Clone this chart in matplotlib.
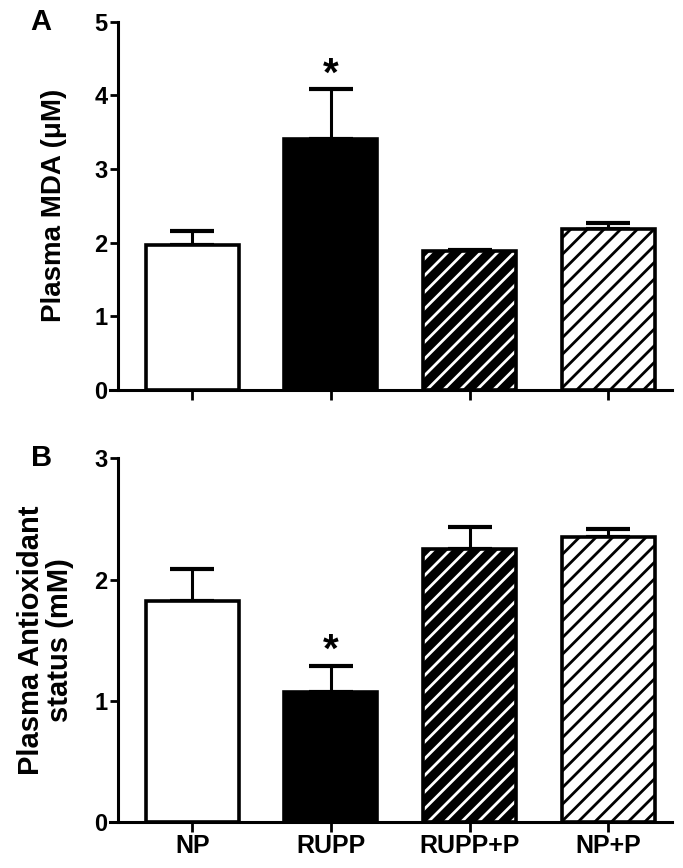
import matplotlib
matplotlib.use('Agg')
import matplotlib.pyplot as plt

plt.rcParams['font.family'] = ['Liberation Sans', 'DejaVu Sans']
plt.rcParams['font.weight'] = 'bold'
plt.rcParams['hatch.linewidth'] = 2.0

groups = ['NP', 'RUPP', 'RUPP+P', 'NP+P']
mda = [1.97, 3.40, 1.88, 2.18]
mda_err = [0.18, 0.68, 0.02, 0.09]
antiox = [1.82, 1.07, 2.25, 2.35]
antiox_err = [0.27, 0.22, 0.18, 0.07]
stars = [False, True, False, False]

faces = ['white', 'black', 'black', 'white']
hatch_cols = [None, None, 'white', 'black']


def draw_panel(ax, vals, errs, ymax, ylabel, ylabel_size, letter, show_names):
    x = range(len(groups))
    for i in x:
        if hatch_cols[i]:
            ax.bar(i, vals[i], width=0.67, color=faces[i], edgecolor=hatch_cols[i],
                   hatch='//', linewidth=0, zorder=2)
        else:
            ax.bar(i, vals[i], width=0.67, color=faces[i], linewidth=0, zorder=2)
        ax.bar(i, vals[i], width=0.67, fill=False, edgecolor='black', linewidth=2.6, zorder=3)
    ax.errorbar(list(x), vals, yerr=[[0] * len(vals), errs], fmt='none', ecolor='black',
                elinewidth=2.2, capsize=16, capthick=3, zorder=1)
    for i in x:
        if stars[i]:
            ax.annotate('*', (i, vals[i] + errs[i]), xytext=(0, -3), textcoords='offset points',
                        ha='center', va='bottom', fontsize=29, fontweight='bold')
    ax.set_xlim(-0.534, 3.46)
    ax.set_ylim(0, ymax)
    ax.set_yticks(range(ymax + 1))
    ax.set_xticks(list(x))
    ax.set_xticklabels(groups if show_names else [''] * len(groups), fontsize=18)
    ax.tick_params(axis='y', labelsize=17, width=2, length=5.5, pad=2)
    ax.tick_params(axis='x', width=2, length=7, pad=2)
    for s in ['top', 'right']:
        ax.spines[s].set_visible(False)
    for s in ['left', 'bottom']:
        ax.spines[s].set_linewidth(2.2)
    ax.spines['bottom'].set_bounds(-0.59, 3.46)
    ax.set_ylabel(ylabel, fontsize=ylabel_size, fontweight='bold', linespacing=1.05)
    ax.text(-0.158, 1.0, letter, transform=ax.transAxes, fontsize=21, fontweight='bold',
            ha='left', va='center')


fig = plt.figure(figsize=(6.83, 8.68), dpi=100)
ax1 = fig.add_axes([0.173, 0.551, 0.811, 0.424])
ax2 = fig.add_axes([0.173, 0.053, 0.811, 0.419])
ax2.patch.set_alpha(0)
ax1.patch.set_alpha(0)

draw_panel(ax1, mda, mda_err, 5, 'Plasma MDA (\u03bcM)', 20, 'A', False)
draw_panel(ax2, antiox, antiox_err, 3, 'Plasma Antioxidant\nstatus (mM)', 21, 'B', True)
ax1.yaxis.set_label_coords(-0.093, 0.5)
ax2.yaxis.set_label_coords(-0.08, 0.5)

fig.savefig('out.png', dpi=100)
